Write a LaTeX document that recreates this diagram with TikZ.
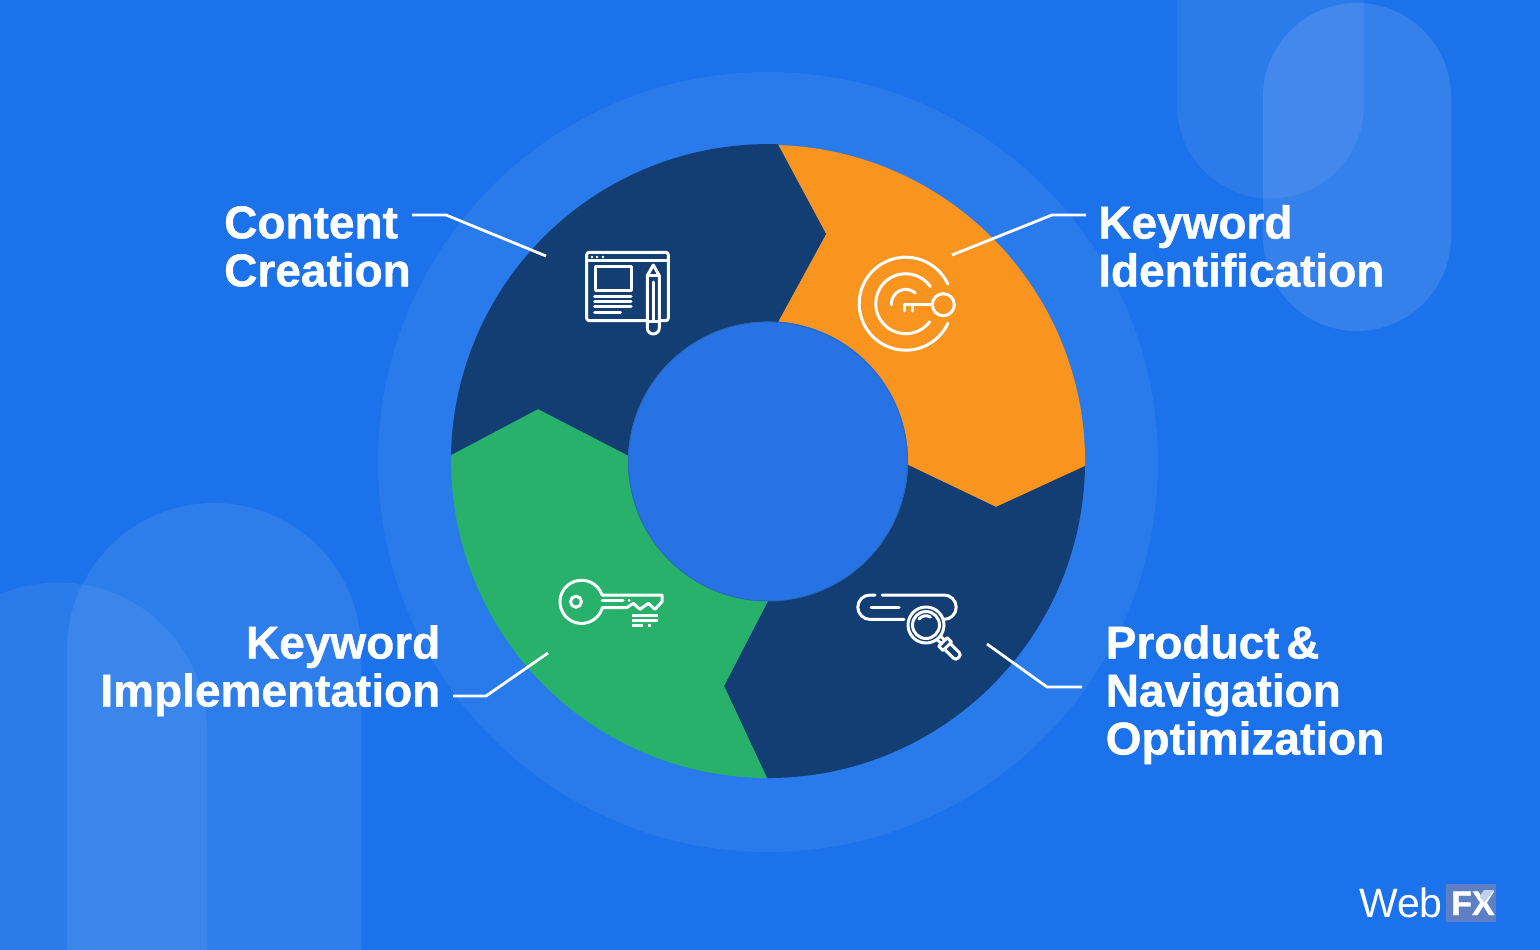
\documentclass[tikz,border=0pt]{standalone}
\usepackage{fontspec}
\setmainfont[BoldFeatures={FakeBold=0.9}]{Liberation Sans}
\definecolor{bgblue}{HTML}{1C72EA}
\definecolor{hubblue}{HTML}{2773E6}
\definecolor{hubedge}{HTML}{2A68BC}
\definecolor{navy}{HTML}{123E73}
\definecolor{amber}{HTML}{F9941E}
\definecolor{leaf}{HTML}{27B16B}
\definecolor{fxbox}{HTML}{5F7FC4}
\definecolor{fxpale}{HTML}{C4D0EA}
\tikzset{
  x=1pt,y=-1pt,
  deco/.style={fill=white,fill opacity=.11,draw=none},
  icon/.style={draw=white,line width=3pt,line cap=round,line join=round},
  leader/.style={draw=white,line width=2.8pt,line join=round},
  lbl/.style={text=white,font=\fontsize{46}{48}\selectfont\bfseries,inner sep=0pt,anchor=north west},
}
\begin{document}
\begin{tikzpicture}
\useasboundingbox (0,0) rectangle (1540,950);
\fill[bgblue] (0,0) rectangle (1540,950);
% decorative pills
\begin{scope}
\clip (0,0) rectangle (1540,950);
\fill[deco,fill opacity=.07] (1177,-20) -- (1177,105) arc[start angle=180,end angle=360,radius=93.5pt] -- (1364,-20) -- cycle;
\fill[deco] (1263,97) arc[start angle=180,end angle=0,radius=94pt] -- (1451,237) arc[start angle=0,end angle=-180,radius=94pt] -- cycle;
\fill[deco,fill opacity=.08] (67,650) arc[start angle=180,end angle=0,radius=147pt] -- (361,980) -- (67,980) -- cycle;
\fill[deco,fill opacity=.07] (-90,731) arc[start angle=180,end angle=0,radius=148.5pt] -- (207,980) -- (-90,980) -- cycle;
\end{scope}
% halo
\fill[white,fill opacity=.06] (768,462) circle[radius=390pt];
% segments
\fill[amber] (778,145) arc[start angle=88.2,end angle=-0.9,radius=317pt] -- (996,507) -- (908,465) arc[start angle=-1.6,end angle=85.9,radius=140pt] -- (826,234) -- cycle;
\fill[navy] (1085,466) arc[start angle=-0.9,end angle=-90.2,radius=317pt] -- (724,686) -- (768,601) arc[start angle=-90,end angle=-1.6,radius=140pt] -- (996,507) -- cycle;
\fill[leaf] (767,778) arc[start angle=-90.2,end angle=-181.1,radius=317pt] -- (538,409) -- (628,455) arc[start angle=177.5,end angle=270,radius=140pt] -- (724,686) -- cycle;
\fill[navy] (451,455) arc[start angle=178.9,end angle=88.2,radius=317pt] -- (826,234) -- (778,322) arc[start angle=85.9,end angle=177.5,radius=140pt] -- (538,409) -- cycle;
\draw[fill=hubblue,draw=hubedge,line width=1pt] (768,461.5) circle[radius=139.5pt];
% icon: browser and pencil
\draw[icon,rounded corners=2.5pt] (586.7,252.3) rectangle (668.3,320.7);
\draw[icon] (586.7,260) -- (668.3,260);
\fill[white] (592,257) circle[radius=1.4pt] (597,257) circle[radius=1.4pt] (603,257) circle[radius=1.4pt];
\draw[icon,line cap=butt] (595,266) rectangle (631,290);
\draw[icon] (594.5,296) -- (631,296) (594.5,301) -- (631,301) (594.5,306.7) -- (631,306.7) (594.5,312) -- (620.5,312);
\draw[icon,fill=navy] (647.3,275.7) -- (653.3,265) -- (659.3,275.7) -- (659.3,328) arc[start angle=0,end angle=-180,radius=6pt] -- cycle;
\draw[icon] (647.3,275.7) -- (659.3,275.7) (653.3,282) -- (653.3,320) (647.3,321.7) -- (659.3,321.7);
% icon: target key
\path (905.7,303.7) ++(25:46.5pt) coordinate (t1);
\draw[icon] (t1) arc[start angle=25,end angle=335,radius=46.5pt];
\path (905.7,303.7) ++(35:30pt) coordinate (t2);
\draw[icon] (t2) arc[start angle=35,end angle=323,radius=30pt];
\path (905.7,303.7) ++(48:14.3pt) coordinate (t3);
\draw[icon] (t3) arc[start angle=48,end angle=185,radius=14.3pt];
\draw[icon] (943.3,304.7) circle[radius=11pt];
\draw[icon] (932.3,304.7) -- (904,304.7) -- (904,311) (912.7,304.7) -- (912.7,311);
% icon: key
\path (602,594.8) coordinate (k1);
\draw[icon] (k1) arc[start angle=19,end angle=341,radius=21.6pt];
\draw[icon] (576,601.7) circle[radius=5.5pt];
\draw[icon] (602,595) -- (662,595) -- (662,601.7) -- (655,609.3) -- (648.3,603.3) -- (640,609.3) -- (633.3,603.3) -- (626.7,607.7) -- (602,607.7);
\draw[icon] (602,600.5) -- (623,600.5);
\fill[white] (629,600.5) circle[radius=1.5pt];
\draw[icon,line cap=butt] (631.7,615.7) -- (657.7,615.7) (631.7,620.7) -- (657.7,620.7) (631.7,625.7) -- (643,625.7) (648,625.7) -- (651,625.7);
% icon: search bar
\draw[icon] (875,595) -- (870,595) arc[start angle=90,end angle=270,radius=12.2pt] -- (904,619.4);
\draw[icon] (882,595) -- (944,595) arc[start angle=90,end angle=-90,radius=12.2pt];
\draw[icon] (871,607.3) -- (899,607.3);
\draw[icon,fill=navy] (926,625) circle[radius=18pt];
\draw[icon] (926,625) circle[radius=13.5pt];
\draw[icon] (919,619) arc[start angle=140,end angle=60,radius=9pt];
\begin{scope}[shift={(926,625)},rotate=-45,y=1pt]
\draw[icon] (18,2.5) -- (24,2.5) (18,-2.5) -- (24,-2.5);
\draw[icon] (24,-6) rectangle (30,6);
\draw[icon,rounded corners=3pt] (30,-4) -- (46,-4) -- (46,4) -- (30,4);
\end{scope}
% leaders
\coordinate (c1) at (412,215); \coordinate (c2) at (446,215); \coordinate (c3) at (546,256);
\coordinate (i1) at (1086,215); \coordinate (i2) at (1052,215); \coordinate (i3) at (952,255);
\coordinate (m1) at (453,696); \coordinate (m2) at (486,696); \coordinate (m3) at (548,653);
\coordinate (p1) at (1082,687); \coordinate (p2) at (1047,687); \coordinate (p3) at (987,644);
\draw[leader] (c1) -- (c2) -- (c3);
\draw[leader] (i1) -- (i2) -- (i3);
\draw[leader] (m1) -- (m2) -- (m3);
\draw[leader] (p1) -- (p2) -- (p3);
% labels
\node[lbl,align=left] (content) at (224,206) {Content\\Creation};
\node[lbl,align=left] (kwid) at (1098,205) {Keyword\\Identification};
\node[lbl,align=right,anchor=north east] (kwim) at (440.5,625) {Keyword\\Implementation};
\node[lbl,align=left] (prod) at (1105.5,625) {Product\hspace{-6pt} \&\\Navigation\\Optimization};
% logo
\fill[fxbox] (1446,884) rectangle (1496,922);
\node[inner sep=0pt,anchor=base west,text=white,font=\fontsize{41}{41}\selectfont] (web) at (1359,917) {Web};
\node[inner sep=0pt,anchor=base west,text=white,font=\fontsize{34}{34}\selectfont\bfseries] (fx) at (1451,915) {FX};
\fill[fxpale] (1484,890) -- (1494,890) -- (1484.5,902.5) -- (1479.5,896.5) -- cycle;
\end{tikzpicture}
\end{document}
